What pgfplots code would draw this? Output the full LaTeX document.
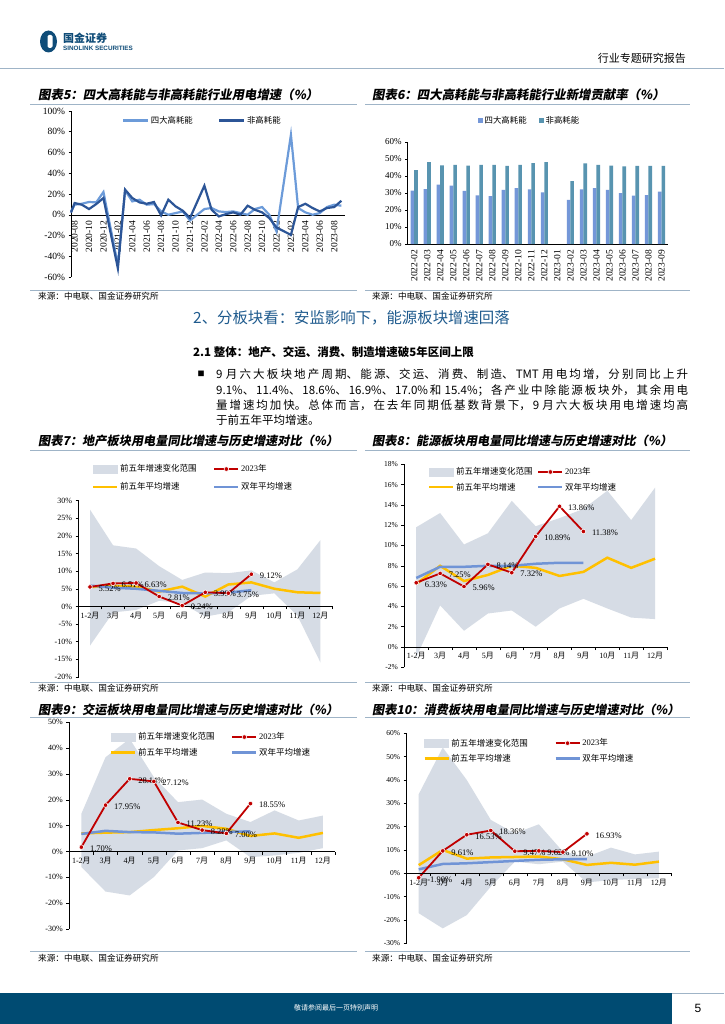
\documentclass[border=0pt]{standalone}
\usepackage{pgfplots}
\pgfplotsset{compat=1.18}
\usepackage{fontspec}
\setmainfont{Liberation Serif}
\newfontfamily\cjk{Noto Sans CJK SC}
\newfontfamily\cjkti[FakeSlant=0.18]{Noto Sans CJK SC}
\newfontfamily\sans{Liberation Sans}
\XeTeXlinebreaklocale "zh"
\XeTeXlinebreakskip=0pt plus 4pt

\definecolor{bandc}{HTML}{D6DCE5}
\definecolor{redc}{HTML}{C00000}
\definecolor{yelc}{HTML}{FFC000}
\definecolor{bluec}{HTML}{7094D6}
\definecolor{lightb}{HTML}{6C9BD9}
\definecolor{darkb}{HTML}{2C5597}
\definecolor{bar1}{HTML}{7497D8}
\definecolor{bar2}{HTML}{5894B0}
\definecolor{headc}{HTML}{1F5B8E}
\definecolor{sepc}{HTML}{9FB4C7}
\definecolor{footc}{HTML}{004B72}
\definecolor{logoc}{HTML}{0F4C78}

\pgfplotsset{
  legband/.style={legend image code/.code={\fill[bandc] (0pt,-4pt) rectangle (24pt,4pt);}},
  legred/.style={legend image code/.code={\draw[redc,line width=1.8pt,mark=*,mark size=2.3pt,mark options={fill=redc,draw=white,line width=0.6pt},mark repeat=2,mark phase=2] plot coordinates {(0pt,0pt) (12pt,0pt) (24pt,0pt)};}},
  legyel/.style={legend image code/.code={\draw[yelc,line width=2.5pt] (0pt,0pt) -- (24pt,0pt);}},
  legblu/.style={legend image code/.code={\draw[bluec,line width=2.5pt] (0pt,0pt) -- (24pt,0pt);}},
  leglight/.style={legend image code/.code={\draw[lightb,line width=2.2pt] (0pt,0pt) -- (25pt,0pt);}},
  legdark/.style={legend image code/.code={\draw[darkb,line width=2.2pt] (0pt,0pt) -- (25pt,0pt);}},
  legbar1/.style={legend image code/.code={\fill[bar1] (0pt,-2.5pt) rectangle (5pt,2.5pt);}},
  legbar2/.style={legend image code/.code={\fill[bar2] (0pt,-2.5pt) rectangle (5pt,2.5pt);}},
  noarrows/.style={axis line style={-}, every inner x axis line/.append style={-}, every outer x axis line/.append style={-}, every inner y axis line/.append style={-}, every outer y axis line/.append style={-}},
  cmp/.style={
    scale only axis, clip=false, axis on top,
    axis x line=middle, axis y line=left, noarrows,
    axis line style={black, line width=0.5pt},
    hide obscured x ticks=false, hide obscured y ticks=false,
    xmin=-0.5, xmax=10.5,
    xtick={-0.5,0.5,1.5,2.5,3.5,4.5,5.5,6.5,7.5,8.5,9.5,10.5}, xticklabels={},
    extra x ticks={0,1,2,3,4,5,6,7,8,9,10},
    extra x tick labels={1-2{\cjk 月},3{\cjk 月},4{\cjk 月},5{\cjk 月},6{\cjk 月},7{\cjk 月},8{\cjk 月},9{\cjk 月},10{\cjk 月},11{\cjk 月},12{\cjk 月}},
    extra x tick style={major tick length=0pt, tick label style={yshift=-2pt}},
    x tick label style={font=\fontsize{8}{9}\selectfont},
    tick align=outside, major tick length=3pt,
    tick style={black, line width=0.5pt},
    legend columns=2, legend cell align=left,
    legend style={draw=none, fill=none, anchor=north west, inner sep=0pt, nodes={inner sep=1.5pt}, font=\cjk\fontsize{8.5}{10}\selectfont},
  },
  band/.style={fill=bandc, draw=none},
  yl/.style={yelc, line width=2.5pt},
  bl/.style={bluec, line width=2.5pt},
  rl/.style={redc, line width=1.8pt, mark=*, mark size=2.3pt, mark options={fill=redc, draw=white, line width=0.6pt}, nodes near coords, point meta=explicit symbolic, every node near coord/.append style={anchor=west, xshift=5pt, yshift=-1.5pt, text=black, font=\fontsize{8.5}{10}\selectfont}},
}

\begin{document}
\begin{tikzpicture}
\path[use as bounding box] (0pt,0pt) rectangle (724pt,-1024pt);
\begin{scope}[x=1pt,y=-1pt]
\fill[white] (0,0) rectangle (724,1024);
% header
\fill[logoc] (48.5,41.5) ellipse (8.5 and 11);
\fill[white, rounded corners=1.5pt] (47.5,35) rectangle (52.5,48);
\node[anchor=west, inner sep=0pt, text=logoc, font=\cjk\bfseries\fontsize{11}{12}\selectfont] at (63,38.5) {国金证券};
\node[anchor=west, inner sep=0pt, text=logoc, font=\sans\bfseries\fontsize{6.3}{7}\selectfont] at (63,48.5) {SINOLINK SECURITIES};
\node[anchor=east, inner sep=0pt, font=\cjk\fontsize{11}{12}\selectfont] at (686,58) {行业专题研究报告};
\draw[sepc, line width=0.8pt] (0,68) -- (724,68);
% titles
\node[anchor=west, inner sep=0pt, font=\cjkti\bfseries\fontsize{12.4}{14}\selectfont] at (38,95) {图表5：四大高耗能与非高耗能行业用电增速（\%）};
\node[anchor=west, inner sep=0pt, font=\cjkti\bfseries\fontsize{12.4}{14}\selectfont] at (372,95) {图表6：四大高耗能与非高耗能行业新增贡献率（\%）};
\node[anchor=west, inner sep=0pt, font=\cjkti\bfseries\fontsize{12.2}{14}\selectfont] at (38,441) {图表7：地产板块用电量同比增速与历史增速对比（\%）};
\node[anchor=west, inner sep=0pt, font=\cjkti\bfseries\fontsize{12.2}{14}\selectfont] at (372,441) {图表8：能源板块用电量同比增速与历史增速对比（\%）};
\node[anchor=west, inner sep=0pt, font=\cjkti\bfseries\fontsize{12.2}{14}\selectfont] at (38,710) {图表9：交运板块用电量同比增速与历史增速对比（\%）};
\node[anchor=west, inner sep=0pt, font=\cjkti\bfseries\fontsize{12.2}{14}\selectfont] at (372,710) {图表10：消费板块用电量同比增速与历史增速对比（\%）};
% separators
\foreach \yy in {104,290,450,682,717.5,951} {
  \draw[sepc, line width=0.7pt] (30,\yy) -- (357,\yy);
  \draw[sepc, line width=0.7pt] (365,\yy) -- (690,\yy);
}
% sources
\foreach \xx/\yy in {38/296,372/296,38/688,372/688,38/958,372/958} {
  \node[anchor=west, inner sep=0pt, font=\cjk\fontsize{8.6}{9}\selectfont] at (\xx,\yy) {来源：中电联、国金证券研究所};
}
% section text
\node[anchor=west, inner sep=0pt, text=headc, font=\cjk\fontsize{15.4}{17}\selectfont] at (193,318) {2、分板块看：安监影响下，能源板块增速回落};
\node[anchor=west, inner sep=0pt, font=\cjk\bfseries\fontsize{11.5}{13}\selectfont] at (193,352) {2.1 整体：地产、交运、消费、制造增速破5年区间上限};
\node[inner sep=0pt, font=\cjk\fontsize{7}{8}\selectfont] at (201,374) {■};
\node[anchor=north west, inner sep=0pt, text width=472pt, align=justify, font=\cjk\fontsize{11.5}{15.3}\selectfont] at (216,369) {\parindent=0pt\tolerance=10000\parfillskip=0pt
9 月六大板块地产周期、能源、交运、消费、制造、TMT 用电均增，分别同比上升\par
9.1\%、11.4\%、18.6\%、16.9\%、17.0\%和 15.4\%；各产业中除能源板块外，其余用电\par
量增速均加快。总体而言，在去年同期低基数背景下，9 月六大板块用电增速均高\par
\parfillskip=0pt plus 1fil 于前五年平均增速。};
% footer
\fill[footc] (0,993) rectangle (672,1024);
\draw[sepc, line width=0.7pt] (672,993) -- (724,993);
\node[text=white, inner sep=0pt, font=\cjk\fontsize{7}{8}\selectfont] at (336,1008) {敬请参阅最后一页特别声明};
\node[inner sep=0pt, font=\sans\fontsize{12}{13}\selectfont] at (698,1008) {5};
\end{scope}

% ---------------- Chart 5 ----------------
\begin{axis}[at={(71pt,-277pt)}, anchor=south west, scale only axis, width=274pt, height=166pt, clip=false,
  xmin=-0.5, xmax=37.5, ymin=-60, ymax=100,
  axis x line=middle, axis y line=left, noarrows, axis line style={black,line width=0.5pt},
  hide obscured x ticks=false, hide obscured y ticks=false,
  ytick={-60,-40,...,100}, yticklabels={-60\%,-40\%,-20\%,0\%,20\%,40\%,60\%,80\%,100\%},
  xtick={0,2,...,36},
  xticklabels={2020-08,2020-10,2020-12,2021-02,2021-04,2021-06,2021-08,2021-10,2021-12,2022-02,2022-04,2022-06,2022-08,2022-10,2022-12,2023-02,2023-04,2023-06,2023-08},
  x tick label style={rotate=90, anchor=east, font=\fontsize{9.5}{10}\selectfont},
  y tick label style={font=\fontsize{9.5}{10}\selectfont},
  tick align=outside, major tick length=2.5pt, tick style={black,line width=0.5pt}, xtick style={draw=none},
  legend columns=2, legend cell align=left,
  legend style={draw=none, fill=none, at={(0.186,0.979)}, anchor=north west, inner sep=0pt, nodes={inner sep=1.5pt}, font=\cjk\fontsize{8.4}{9}\selectfont, /tikz/every even column/.append style={column sep=24pt}},
]
\addplot[lightb, line width=2.2pt, leglight] coordinates {
(-0.5,3) (0,9.7) (1,10.6) (2,12.3) (3,11.9) (4,21.9) (6,-48.4) (7,23.5) (8,12.9) (9,14.5) (10,9.7) (11,10.3) (12,3.2) (13,0) (14,1.6) (15,3.2) (16,-5.5) (18,5.5) (19,6.5) (20,3.2) (21,2.6) (22,3.2) (23,1.6) (24,0) (25,5.5) (26,7.4) (27,0) (28,-16) (30,77) (31,6.5) (32,2.3) (33,0) (34,1.6) (35,7.4) (36,9.7) (37,8.7)};
\addlegendentry{四大高耗能}
\addplot[darkb, line width=2.2pt, legdark] coordinates {
(-0.5,2) (0,11.3) (1,9.7) (2,5.5) (3,10.3) (4,16.1) (6,-51.6) (7,24.2) (8,16.1) (9,11.9) (10,10.6) (11,12.3) (12,-0.6) (13,14.5) (14,8.1) (15,3.9) (16,-3.2) (18,28) (19,4.8) (20,-1.6) (21,0.6) (22,2.3) (23,0) (24,8.7) (25,4.8) (26,2.3) (27,-3.2) (28,-12.3) (30,-19.4) (31,7.4) (32,10.6) (33,6.5) (34,3.2) (35,6.5) (36,7.4) (37,13.5)};
\addlegendentry{非高耗能}
\end{axis}

% ---------------- Chart 6 ----------------
\begin{axis}[at={(407.7pt,-244pt)}, anchor=south west, scale only axis, width=260.3pt, height=102pt, clip=false,
  ybar=0pt, bar width=3.6pt,
  xmin=-0.5, xmax=19.5, ymin=0, ymax=60,
  axis x line=bottom, axis y line=left, noarrows, axis line style={black,line width=0.5pt},
  ytick={0,10,...,60}, yticklabels={0\%,10\%,20\%,30\%,40\%,50\%,60\%},
  xtick={0,...,19},
  xticklabels={2022-02,2022-03,2022-04,2022-05,2022-06,2022-07,2022-08,2022-09,2022-10,2022-11,2022-12,2023-01,2023-02,2023-03,2023-04,2023-05,2023-06,2023-07,2023-08,2023-09},
  x tick label style={rotate=90, anchor=east, font=\fontsize{9.5}{10}\selectfont},
  y tick label style={font=\fontsize{9}{10}\selectfont},
  tick align=outside, major tick length=2.5pt, tick style={black,line width=0.5pt}, xtick style={draw=none},
  legend columns=2, legend cell align=left,
  legend style={draw=none, fill=none, at={(0.27,1.27)}, anchor=north west, inner sep=0pt, nodes={inner sep=1.5pt}, font=\cjk\fontsize{8.4}{9}\selectfont, /tikz/every even column/.append style={column sep=11pt}},
]
\addplot[fill=bar1, draw=none, legbar1] coordinates {
(0,31.4) (1,32.3) (2,34.9) (3,34.3) (4,31.2) (5,28.6) (6,28.2) (7,31.8) (8,32.9) (9,32.1) (10,30.4) (12,25.9) (13,32.1) (14,32.9) (15,31.8) (16,30.0) (17,28.4) (18,28.8) (19,30.8)};
\addlegendentry{四大高耗能}
\addplot[fill=bar2, draw=none, legbar2] coordinates {
(0,43.5) (1,48.2) (2,46.3) (3,46.5) (4,46.1) (5,46.5) (6,46.5) (7,45.9) (8,46.6) (9,47.6) (10,48.2) (12,37.0) (13,47.4) (14,46.5) (15,46.1) (16,45.7) (17,45.9) (18,45.9) (19,45.9)};
\addlegendentry{非高耗能}
\end{axis}

% ---------------- Chart 7 ----------------
\begin{axis}[cmp, at={(78.5pt,-677pt)}, anchor=south west, width=253.5pt, height=176.5pt,
  ymin=-20, ymax=30, ytick={-20,-15,...,30},
  yticklabels={-20\%,-15\%,-10\%,-5\%,0\%,5\%,10\%,15\%,20\%,25\%,30\%},
  y tick label style={font=\fontsize{8}{9}\selectfont},
  legend style={at={(0.053,1.2125)}, row sep=6pt, /tikz/every even column/.append style={column sep=15pt}},
]
\addplot[band, forget plot] coordinates {(0,27.4) (1,17.3) (2,16.4) (3,11.4) (4,7.5) (5,9.6) (6,9.4) (7,10.2) (8,6.8) (9,10.5) (10,18.8) (10,-15.9) (9,-2.6) (8,3.7) (7,3.0) (6,-1.7) (5,-2.9) (4,0.9) (3,1.6) (2,-1.0) (1,-1.7) (0,-11.1)};
\addplot[yl, forget plot] coordinates {(0,5.5) (1,5.8) (2,5.6) (3,4.2) (4,5.6) (5,2.8) (6,6.2) (7,6.8) (8,5.0) (9,4.0) (10,3.8)};
\addplot[bl, forget plot] coordinates {(0,5.9) (1,5.3) (2,5.0) (3,4.4) (4,3.8) (5,3.7) (6,3.9) (7,4.6)};
\addplot[rl, forget plot] coordinates {(0,5.52) [5.52\%] (1,6.51) [6.51\%] (2,6.63) [6.63\%] (3,2.81) [2.81\%] (4,0.24) [0.24\%] (5,3.99) [3.99\%] (6,3.75) [3.75\%] (7,9.12) [9.12\%]};
\addlegendimage{legband}\addlegendentry{前五年增速变化范围}
\addlegendimage{legred}\addlegendentry{{\rmfamily 2023}年}
\addlegendimage{legyel}\addlegendentry{前五年平均增速}
\addlegendimage{legblu}\addlegendentry{双年平均增速}
\end{axis}

% ---------------- Chart 8 ----------------
\begin{axis}[cmp, at={(404.3pt,-667.3pt)}, anchor=south west, width=262.7pt, height=203pt,
  ymin=-2, ymax=18, ytick={-2,0,...,18},
  yticklabels={-2\%,0\%,2\%,4\%,6\%,8\%,10\%,12\%,14\%,16\%,18\%},
  y tick label style={font=\fontsize{7.5}{9}\selectfont},
  legend style={at={(0.09,0.992)}, row sep=3.5pt, /tikz/every even column/.append style={column sep=3pt}},
]
\addplot[band, forget plot] coordinates {(0,11.8) (1,13.2) (2,10.1) (3,11.2) (4,14.4) (5,11.9) (6,12.7) (7,13.6) (8,15.4) (9,12.5) (10,15.7) (10,2.75) (9,2.9) (8,3.8) (7,4.75) (6,3.8) (5,2.0) (4,3.6) (3,3.3) (2,1.6) (1,4.1) (0,-1.0)};
\addplot[yl, forget plot] coordinates {(0,6.2) (1,8.0) (2,6.5) (3,7.1) (4,8.0) (5,7.8) (6,7.0) (7,7.4) (8,8.8) (9,7.8) (10,8.7)};
\addplot[bl, forget plot] coordinates {(0,6.8) (1,7.9) (2,7.9) (3,8.0) (4,8.0) (5,8.2) (6,8.3) (7,8.3)};
\addplot[rl, forget plot] coordinates {(0,6.33) [6.33\%] (1,7.25) [7.25\%] (2,5.96) [5.96\%] (3,8.14) [8.14\%] (4,7.32) [7.32\%] (5,10.89) [10.89\%] (6,13.86) [13.86\%] (7,11.38) [11.38\%]};
\addlegendimage{legband}\addlegendentry{前五年增速变化范围}
\addlegendimage{legred}\addlegendentry{{\rmfamily 2023}年}
\addlegendimage{legyel}\addlegendentry{前五年平均增速}
\addlegendimage{legblu}\addlegendentry{双年平均增速}
\end{axis}

% ---------------- Chart 9 ----------------
\begin{axis}[cmp, at={(69.3pt,-929pt)}, anchor=south west, width=265.7pt, height=206.7pt,
  ymin=-30, ymax=50, ytick={-30,-20,...,50},
  yticklabels={-30\%,-20\%,-10\%,0\%,10\%,20\%,30\%,40\%,50\%},
  y tick label style={font=\fontsize{8}{9}\selectfont},
  legend style={at={(0.153,0.958)}, row sep=3.5pt, /tikz/every even column/.append style={column sep=15pt}},
]
\addplot[band, forget plot] coordinates {(0,14.6) (1,36.5) (2,43.6) (3,28.8) (4,19.1) (5,20.1) (6,14.6) (7,11.4) (8,15.9) (9,12.0) (10,13.9) (10,1.3) (9,-0.5) (8,-1.5) (7,-2.2) (6,4.3) (5,1.3) (4,0.4) (3,-9.9) (2,-17.0) (1,-15.5) (0,-6.0)};
\addplot[yl, forget plot] coordinates {(0,7.0) (1,7.3) (2,7.5) (3,8.3) (4,9.0) (5,9.9) (6,8.8) (7,6.0) (8,7.0) (9,5.3) (10,7.2)};
\addplot[bl, forget plot] coordinates {(0,6.8) (1,8.0) (2,7.5) (3,7.4) (4,6.9) (5,7.2) (6,7.6) (7,7.8)};
\addplot[rl, forget plot] coordinates {(0,1.70) [1.70\%] (1,17.95) [17.95\%] (2,28.14) [28.14\%] (3,27.12) [27.12\%] (4,11.23) [11.23\%] (5,8.28) [8.28\%] (6,7.00) [7.00\%] (7,18.55) [18.55\%]};
\addlegendimage{legband}\addlegendentry{前五年增速变化范围}
\addlegendimage{legred}\addlegendentry{{\rmfamily 2023}年}
\addlegendimage{legyel}\addlegendentry{前五年平均增速}
\addlegendimage{legblu}\addlegendentry{双年平均增速}
\end{axis}

% ---------------- Chart 10 ----------------
\begin{axis}[cmp, at={(406.7pt,-943.3pt)}, anchor=south west, width=264.3pt, height=210pt,
  ymin=-30, ymax=60, ytick={-30,-20,...,60},
  yticklabels={-30\%,-20\%,-10\%,0\%,10\%,20\%,30\%,40\%,50\%,60\%},
  y tick label style={font=\fontsize{7.5}{9}\selectfont},
  legend style={at={(0.062,0.982)}, row sep=3.5pt, /tikz/every even column/.append style={column sep=25pt}},
]
\addplot[band, forget plot] coordinates {(0,33.9) (1,53.9) (2,40.0) (3,22.9) (4,17.1) (5,21.0) (6,9.3) (7,7.1) (8,11.0) (9,8.1) (10,9.3) (10,-2.1) (9,-2.4) (8,-2.9) (7,-3.9) (6,5.0) (5,3.9) (4,5.0) (3,-5.7) (2,-17.9) (1,-23.6) (0,-17.1)};
\addplot[yl, forget plot] coordinates {(0,3.5) (1,10.0) (2,6.3) (3,6.8) (4,7.0) (5,7.2) (6,6.0) (7,3.6) (8,4.5) (9,3.7) (10,5.0)};
\addplot[bl, forget plot] coordinates {(0,1.7) (1,4.0) (2,4.3) (3,4.8) (4,5.3) (5,5.8) (6,6.0) (7,6.1)};
\addplot[rl, forget plot] coordinates {(0,-1.90) [-1.90\%] (1,9.61) [9.61\%] (2,16.53) [16.53\%] (3,18.36) [18.36\%] (4,9.47) [9.47\%] (5,9.62) [9.62\%] (6,9.10) [9.10\%] (7,16.93) [16.93\%]};
\addlegendimage{legband}\addlegendentry{前五年增速变化范围}
\addlegendimage{legred}\addlegendentry{{\rmfamily 2023}年}
\addlegendimage{legyel}\addlegendentry{前五年平均增速}
\addlegendimage{legblu}\addlegendentry{双年平均增速}
\end{axis}
\end{tikzpicture}
\end{document}
